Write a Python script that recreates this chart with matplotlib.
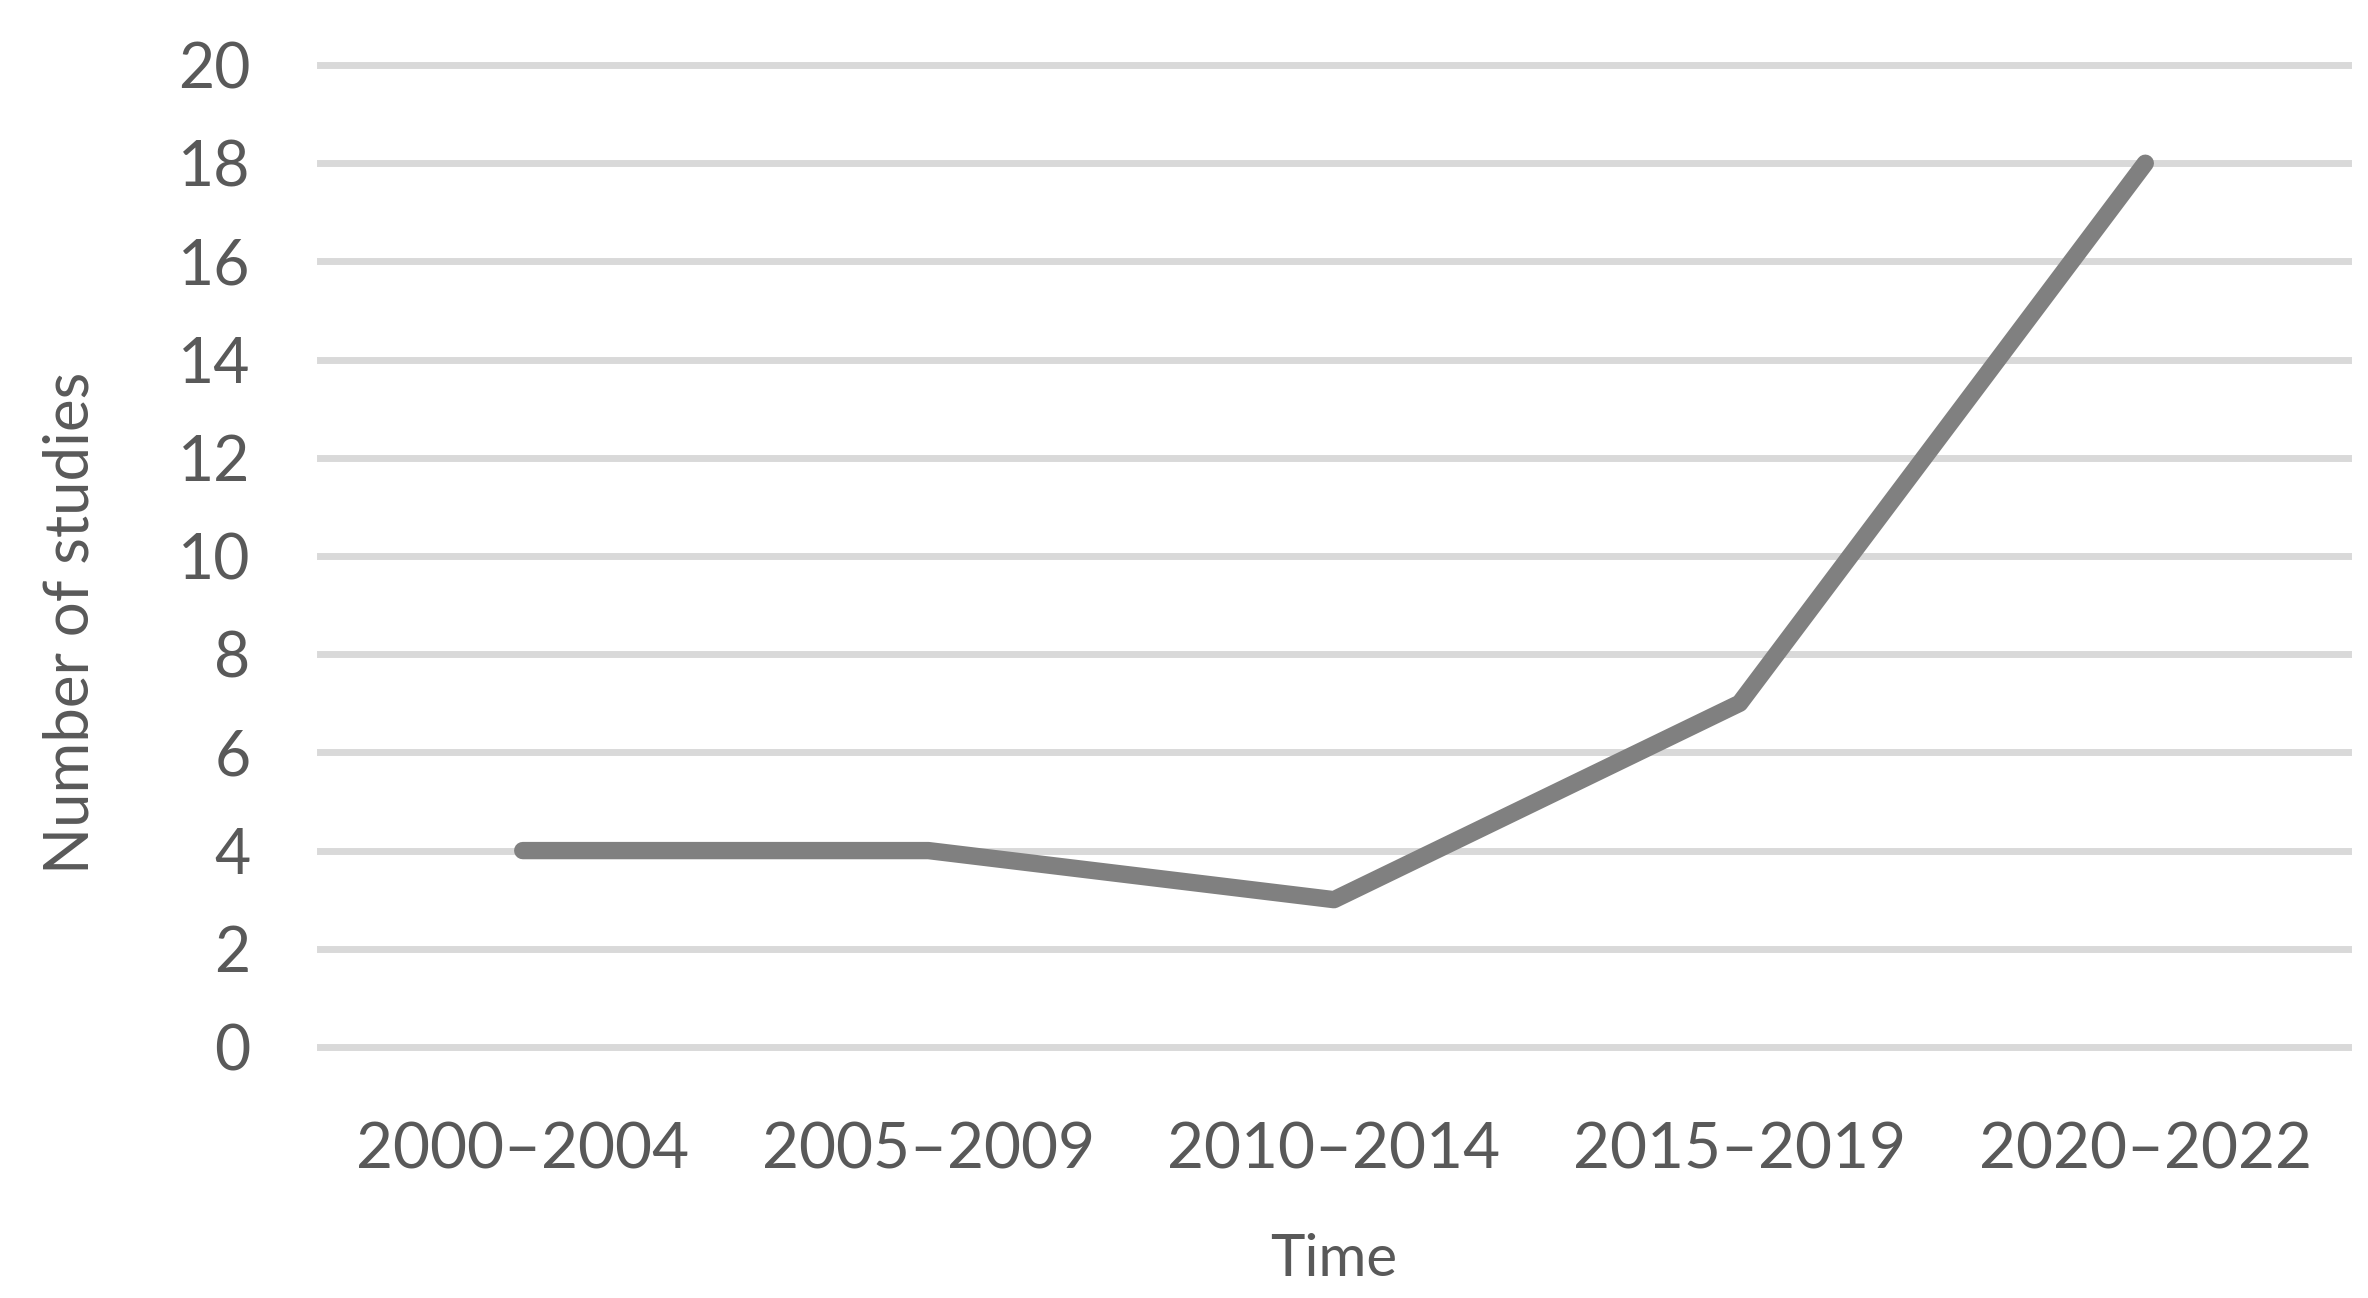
import matplotlib
matplotlib.use("Agg")
import matplotlib.pyplot as plt

categories = ["2000–2004", "2005–2009", "2010–2014", "2015–2019", "2020–2022"]
studies = [4, 4, 3, 7, 18]
yticks = [0, 2, 4, 6, 8, 10, 12, 14, 16, 18, 20]

plt.rcParams['font.family'] = ['Lato', 'DejaVu Sans']
TEXT = '#595959'

fig = plt.figure(figsize=(23.68, 12.98), dpi=100)
ax = fig.add_axes([0.1351, 0.1934, 0.8565, 0.7565])

x = list(range(len(categories)))
ax.plot(x, studies, color='#808080', linewidth=12.5, solid_capstyle='round',
        solid_joinstyle='round', zorder=3, clip_on=False)

ax.set_xlim(-0.5, len(categories) - 0.5)
ax.set_ylim(0, 20)
ax.set_yticks(yticks)
ax.set_xticks(x)
ax.set_xticklabels(categories, fontsize=46)
ax.yaxis.grid(True, color='#d9d9d9', linewidth=5)
ax.set_axisbelow(True)
for gl in ax.get_ygridlines():
    gl.set_clip_on(False)
for s in ax.spines.values():
    s.set_visible(False)
ax.tick_params(axis='both', length=0, labelcolor=TEXT)
ax.tick_params(axis='y', labelsize=45, pad=50)
ax.tick_params(axis='x', pad=54)
fig.text(71 / 2368, 1 - 623 / 1298, "Number of studies", rotation=90,
         ha='center', va='center', fontsize=44.5, color=TEXT)
ax.set_xlabel("Time", fontsize=42, color=TEXT, labelpad=38)

fig.savefig("out.png", dpi=100, facecolor='white')
